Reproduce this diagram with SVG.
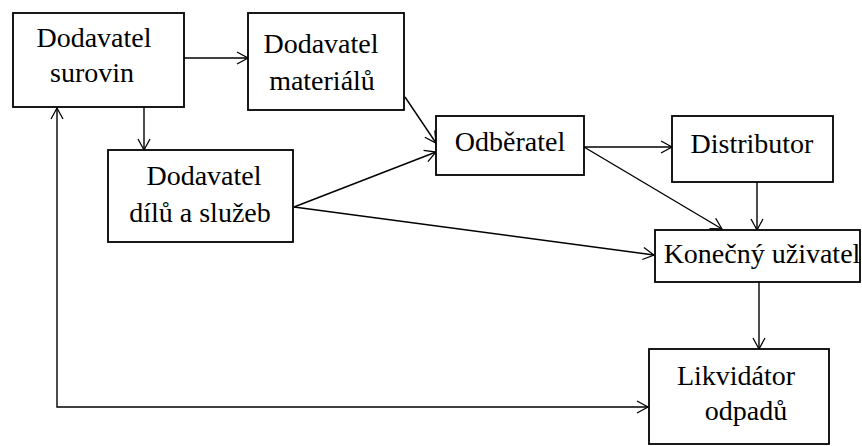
<svg xmlns="http://www.w3.org/2000/svg" width="862" height="446" viewBox="0 0 862 446">
<style>
.box{fill:#fff;stroke:#000;stroke-width:1.8}
.t{font-family:'Times New Roman','Liberation Serif','Nimbus Roman','DejaVu Serif',serif;font-size:28px;fill:#000;text-anchor:middle}
.c{fill:none;stroke:#000;stroke-width:1.4}
</style>
<defs>
<marker id="a" markerUnits="userSpaceOnUse" markerWidth="14" markerHeight="14" refX="12" refY="7" orient="auto-start-reverse" viewBox="0 0 14 14">
<path d="M1,1 L12,7 L1,13" fill="none" stroke="#000" stroke-width="1.3"/>
</marker>
</defs>
<rect width="862" height="446" fill="#fff"/>
<g id="connectors">
<line class="c" x1="184" y1="58" x2="248" y2="58" marker-end="url(#a)"/>
<line class="c" x1="144" y1="107" x2="144" y2="150" marker-end="url(#a)"/>
<polyline class="c" points="57,108 57,407 648,407" marker-start="url(#a)" marker-end="url(#a)"/>
<line class="c" x1="405" y1="97" x2="436" y2="143" marker-end="url(#a)"/>
<line class="c" x1="294" y1="207" x2="436" y2="152" marker-end="url(#a)"/>
<line class="c" x1="294" y1="207" x2="654" y2="255" marker-end="url(#a)"/>
<line class="c" x1="584" y1="147" x2="672" y2="147" marker-end="url(#a)"/>
<line class="c" x1="584" y1="147" x2="722" y2="229" marker-end="url(#a)"/>
<line class="c" x1="757" y1="182" x2="757" y2="230" marker-end="url(#a)"/>
<line class="c" x1="759" y1="282" x2="759" y2="349" marker-end="url(#a)"/>
</g>
<g id="n1">
<rect class="box" x="13" y="13" width="171" height="94"/>
<text class="t" x="94" y="47">Dodavatel</text>
<text class="t" x="92" y="82">surovin</text>
</g>
<g id="n2">
<rect class="box" x="248" y="13" width="156" height="97"/>
<text class="t" x="321" y="53">Dodavatel</text>
<text class="t" x="322" y="90">materiálů</text>
</g>
<g id="n3">
<rect class="box" x="108" y="150" width="185" height="92"/>
<text class="t" x="204" y="185">Dodavatel</text>
<text class="t" x="200" y="222">dílů a služeb</text>
</g>
<g id="n4">
<rect class="box" x="436" y="116" width="148" height="59"/>
<text class="t" x="510" y="151">Odběratel</text>
</g>
<g id="n5">
<rect class="box" x="672" y="116" width="161" height="66"/>
<text class="t" x="752" y="153">Distributor</text>
</g>
<g id="n6">
<rect class="box" x="655" y="230" width="205" height="52"/>
<text class="t" x="762" y="263">Konečný uživatel</text>
</g>
<g id="n7">
<rect class="box" x="649" y="349" width="180" height="95"/>
<text class="t" x="736" y="385">Likvidátor</text>
<text class="t" x="746" y="420">odpadů</text>
</g>
</svg>
